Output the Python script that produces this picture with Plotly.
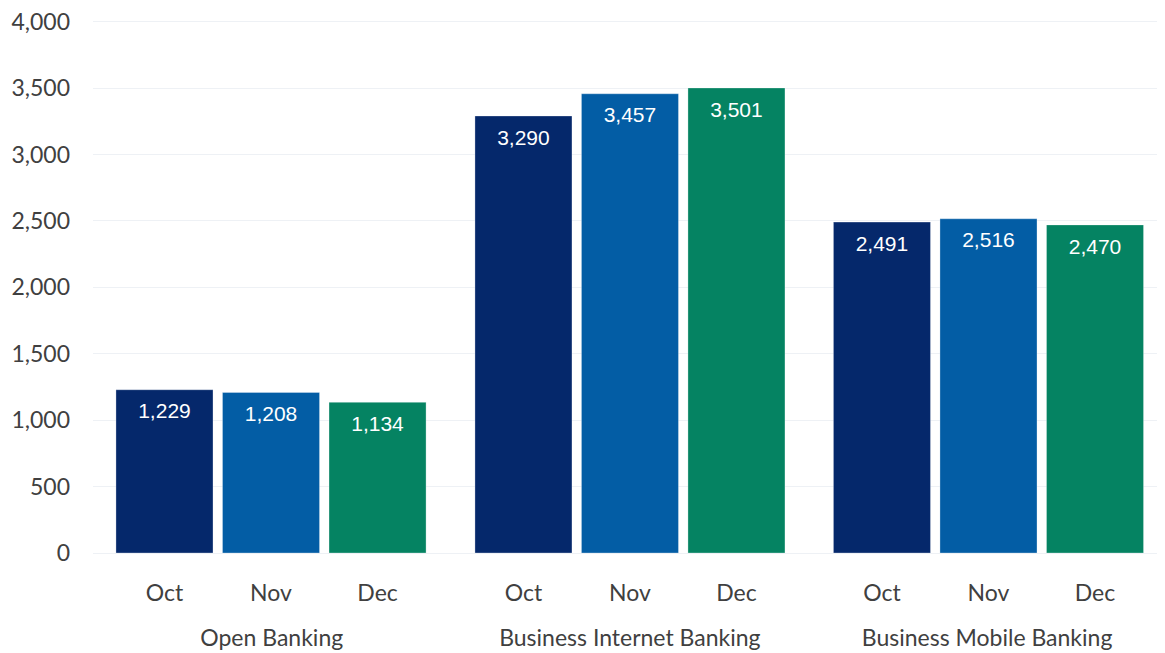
import plotly.graph_objects as go
from plotly.subplots import make_subplots

groups = ["Open Banking", "Business Internet Banking", "Business Mobile Banking"]
months = ["Oct", "Nov", "Dec"]
open_banking = [1229, 1208, 1134]
business_internet = [3290, 3457, 3501]
business_mobile = [2491, 2516, 2470]
series = [open_banking, business_internet, business_mobile]
month_colors = ["#05286B", "#035DA5", "#058362"]
y_ticks = [0, 500, 1000, 1500, 2000, 2500, 3000, 3500, 4000]

AXIS_FONT = dict(family="Lato, 'Open Sans', sans-serif", size=23, color="#404040")
LABEL_FONT = dict(family="'Liberation Sans', Arial, sans-serif", size=21, color="#FFFFFF")
GRID = "#EEF1F5"

fig = make_subplots(rows=1, cols=3, shared_yaxes=True, horizontal_spacing=0)

for i, (g, vals) in enumerate(zip(groups, series)):
    fig.add_trace(
        go.Bar(
            x=months,
            y=vals,
            marker=dict(color=month_colors, line=dict(color="rgba(255,255,255,0.6)", width=0.5)),
            showlegend=False,
            hoverinfo="x+y",
        ),
        row=1, col=i + 1,
    )
    # value labels placed just below the top of each bar
    fig.add_trace(
        go.Scatter(
            x=months,
            y=vals,
            mode="markers+text",
            text=[f"{v:,}" for v in vals],
            textposition="bottom center",
            textfont=LABEL_FONT,
            marker=dict(size=19, opacity=0),
            showlegend=False,
            hoverinfo="skip",
        ),
        row=1, col=i + 1,
    )

domains = [[0.0, 0.3335], [0.3335, 0.6681], [0.6681, 1.0]]
ranges = [[-0.671, 2.685], [-0.685, 2.683], [-0.683, 2.657]]
for i in range(3):
    key = "xaxis" if i == 0 else f"xaxis{i+1}"
    fig.layout[key].update(
        domain=domains[i],
        range=ranges[i],
        type="category",
        automargin=False,
        showgrid=False,
        zeroline=False,
        showline=False,
        ticks="",
        tickfont=AXIS_FONT,
        ticklabelstandoff=24,
        title=dict(text=groups[i], font=AXIS_FONT, standoff=24),
        fixedrange=True,
    )
    ykey = "yaxis" if i == 0 else f"yaxis{i+1}"
    fig.layout[ykey].update(
        range=[0, 4020],
        tickvals=y_ticks,
        tickformat=",",
        automargin=False,
        ticklabeloverflow="allow",
        showgrid=True,
        gridcolor=GRID,
        gridwidth=1,
        zeroline=True,
        zerolinecolor=GRID,
        zerolinewidth=1,
        showline=False,
        ticks="",
        tickfont=AXIS_FONT,
        showticklabels=(i == 0),
        ticklabelstandoff=22,
        fixedrange=True,
    )

# the page body adds an 8px offset, so the figure is sized to fill the rest
fig.update_layout(
    width=1157,
    height=645,
    margin=dict(l=85, r=0, t=11, b=100),
    paper_bgcolor="white",
    plot_bgcolor="white",
    bargap=0.089,
    font=AXIS_FONT,
)

fig.write_html("out.html")
